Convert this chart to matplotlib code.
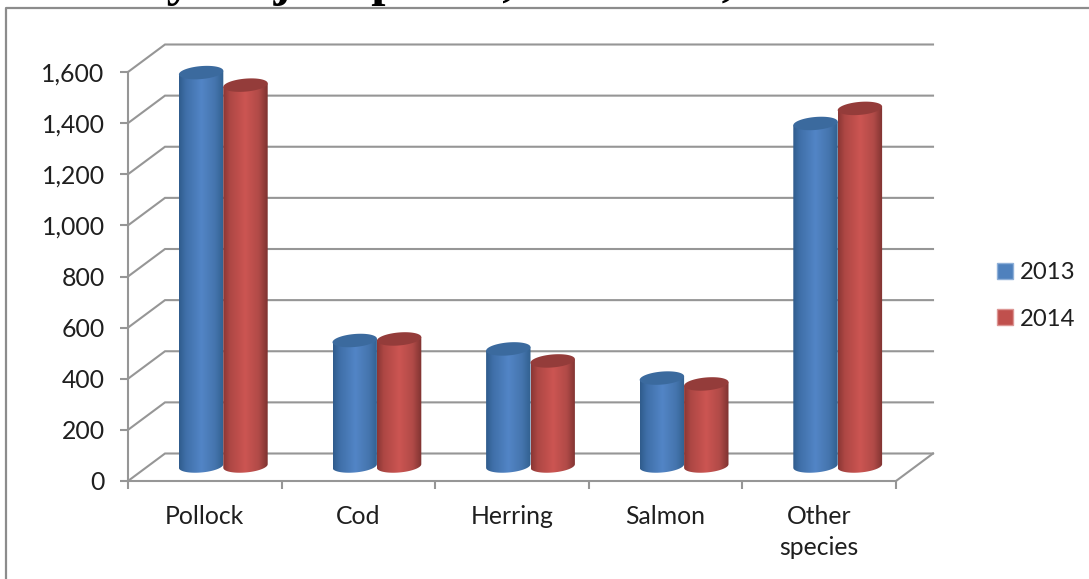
import numpy as np
import matplotlib
matplotlib.use("Agg")
import matplotlib.pyplot as plt
from matplotlib.colors import LinearSegmentedColormap
from matplotlib.lines import Line2D
from matplotlib.patches import Patch, Polygon

categories = ["Pollock", "Cod", "Herring", "Salmon", "Other\nspecies"]
values_2013 = [1539, 491, 458, 344, 1340]
values_2014 = [1490, 497, 411, 321, 1399]
y_ticks = [0, 200, 400, 600, 800, 1000, 1200, 1400, 1600]
heading_left = "by major species,"
heading_right = "2013-2014,"

W, H = 1089, 579
GRID = "#969696"
TEXT = "#1f1f1f"
LABEL_SIZE = 17.8

plt.rcParams["font.family"] = ["Lato", "DejaVu Sans"]

fig = plt.figure(figsize=(W / 100, H / 100), dpi=100)
ax = fig.add_axes([128 / W, (H - 481) / H, 768 / W, 409 / H])
ax.set_xlim(0, 5)
ax.set_ylim(0, 1600)

# one screen pixel in data units
px = 5 / 768
py = 1600 / 409

# depth of the fake 3D box
depth_x = 37 * px
depth_y = 27.5 * py

# walls and floor
for v in y_ticks:
    ax.plot([0, depth_x, 5 + depth_x], [v, v + depth_y, v + depth_y],
            color=GRID, lw=1.5, clip_on=False, zorder=1, solid_joinstyle="miter")
ax.plot([5, 5 + depth_x], [0, depth_y], color=GRID, lw=1.5, clip_on=False, zorder=1)

blue_map = LinearSegmentedColormap.from_list(
    "blue_bar", [(0, "#2f5b8c"), (0.15, "#3f6fa8"), (0.5, "#5285c6"),
                 (0.8, "#4575ae"), (1, "#31608f")])
red_map = LinearSegmentedColormap.from_list(
    "red_bar", [(0, "#8a3634"), (0.15, "#ad4744"), (0.5, "#cc5552"),
                (0.8, "#b04a47"), (1, "#7d3230")])


def cylinder(x_mid, value, cmap, top_color, order):
    half = 22.2 * px
    a = 6.5 * py
    tilt = 1.8 * py
    base = 15 * py
    top = value + base

    t = np.linspace(np.pi, 2 * np.pi, 40)
    low_x = x_mid + half * np.cos(t)
    low_y = base + a * np.sin(t) + tilt * np.cos(t)
    body = np.column_stack([
        np.r_[low_x, x_mid + half, x_mid - half],
        np.r_[low_y, top + tilt, top - tilt],
    ])
    outline = Polygon(body, closed=True, fc="none", ec="none", transform=ax.transData)
    ax.add_patch(outline)
    outline.set_clip_on(False)

    im = ax.imshow(np.linspace(0, 1, 256).reshape(1, -1), cmap=cmap, aspect="auto",
                   extent=(x_mid - half, x_mid + half, 0, top + 2 * a),
                   zorder=order, interpolation="bilinear")
    im.set_clip_box(fig.bbox)
    im.set_clip_path(outline)

    t = np.linspace(0, 2 * np.pi, 80)
    cap = np.column_stack([
        x_mid + half * np.cos(t),
        top + a * np.sin(t) + tilt * np.cos(t),
    ])
    ax.add_patch(Polygon(cap, closed=True, fc=top_color, ec="none",
                         clip_on=False, zorder=order + 0.1))


bar_offset = 22.2 * px
mid_depth = 18.5 * px
for i in range(len(categories)):
    center = i + 0.5 + mid_depth
    cylinder(center - bar_offset, values_2013[i], blue_map, "#3b6a9e", 3)
    cylinder(center + bar_offset, values_2014[i], red_map, "#943c3a", 4)

ax.set_xlim(0, 5)
ax.set_ylim(0, 1600)
ax.patch.set_visible(False)

# axes
for side in ["top", "right"]:
    ax.spines[side].set_visible(False)
for side in ["left", "bottom"]:
    ax.spines[side].set_color(GRID)
    ax.spines[side].set_linewidth(1.5)

ax.set_yticks(y_ticks)
ax.set_yticklabels([f"{v:,}" for v in y_ticks])
ax.tick_params(axis="y", length=5.8, width=1.5, color=GRID, pad=11,
               labelsize=LABEL_SIZE, labelcolor=TEXT)
ax.set_xticks(range(6))
ax.set_xticklabels([])
ax.set_xticks([i + 0.5 for i in range(5)], minor=True)
ax.set_xticklabels(categories, minor=True)
ax.tick_params(axis="x", which="major", length=5.8, width=1.5, color=GRID)
ax.tick_params(axis="x", which="minor", length=0, pad=17,
               labelsize=LABEL_SIZE, labelcolor=TEXT)
for lab in ax.get_xticklabels(minor=True):
    lab.set_linespacing(1.45)

ax.legend(handles=[Patch(fc="#4f81bd", ec="#8fb0d8", label="2013"),
                   Patch(fc="#c0504d", ec="#dc9694", label="2014")],
          loc="center left", bbox_to_anchor=(997 / W, (H - 296) / H),
          bbox_transform=fig.transFigure, frameon=False, fontsize=17.2,
          labelcolor=TEXT, handlelength=0.66, handleheight=0.66,
          handletextpad=0.3, labelspacing=1.05, borderpad=0, borderaxespad=0)

# outer chart frame
fig.add_artist(Line2D([6 / W, 6 / W, 1], [0, (H - 8) / H, (H - 8) / H],
                      color="#8c8c8c", lw=1.6))

# heading runs off the top edge, only its descenders stay in view
fig.text(138 / W, (H + 5) / H, heading_left, family="Liberation Serif", weight="bold",
         fontsize=37, color="black", ha="left", va="baseline")
fig.text(735 / W, (H + 5) / H, heading_right, family="Liberation Serif", weight="bold",
         fontsize=37, color="black", ha="right", va="baseline")

fig.savefig("out.png", dpi=100, facecolor="white")
